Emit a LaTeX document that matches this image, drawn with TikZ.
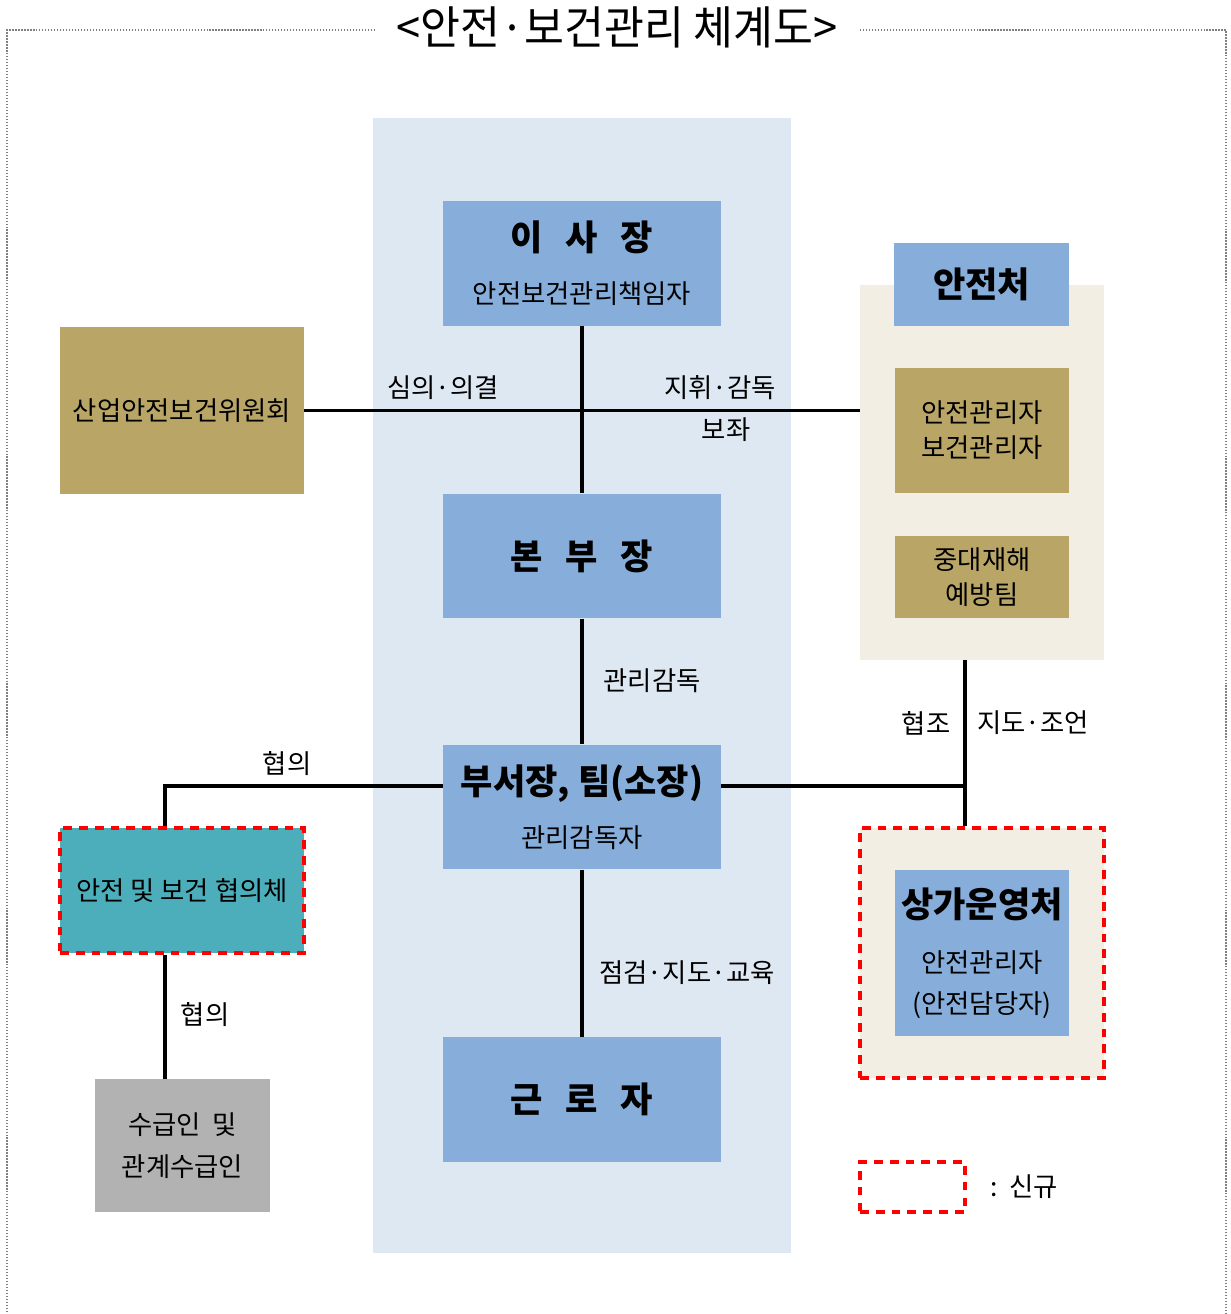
\documentclass[tikz,border=0pt]{standalone}
\usepackage{fontspec}
\setmainfont{Noto Sans CJK KR}
\usepackage{tikz}
\definecolor{ColBand}{RGB}{222,232,243}
\definecolor{ColBlue}{RGB}{135,174,218}
\definecolor{ColOlive}{RGB}{185,166,103}
\definecolor{ColBeige}{RGB}{242,238,228}
\definecolor{ColTeal}{RGB}{75,174,186}
\definecolor{ColGray}{RGB}{178,178,178}
\definecolor{ColNew}{RGB}{255,0,0}
\newcommand{\HeadFont}{\fontsize{20}{24}\selectfont\bfseries}
\newcommand{\BodyFont}{\fontsize{15}{20}\selectfont}
\tikzstyle{BoxBlue}=[fill=ColBlue,minimum width=5.56cm,minimum height=2.5cm,align=center,
inner sep=0pt,font=\BodyFont]
\tikzstyle{BoxOlive}=[fill=ColOlive,align=center,inner sep=0pt,font=\BodyFont]
\tikzstyle{Panel}=[fill=ColBeige,minimum width=4.88cm,inner sep=0pt]
\tikzstyle{NewMark}=[draw=ColNew,line width=2.6pt,dash pattern=on 5pt off 4pt]
\tikzstyle{EdgeLine}=[black,line width=2.2pt]
\tikzstyle{Label}=[font=\BodyFont,inner sep=0pt]
\begin{document}
\begin{tikzpicture}[x=0.02cm,y=-0.02cm]
        \useasboundingbox (0,0) rectangle (1230,1314);
        % frame and title
        \draw[gray,densely dotted,line width=0.7pt](375,30)--(7,30)--(7,1314);
        \draw[gray,densely dotted,line width=0.7pt](860,30)--(1226,30)--(1226,1314);
        \node[inner sep=0pt](title)at(617,27){\scalebox{.95}[1]{\fontsize{26}{30}\selectfont <안전·보건관리 체계도>}};
        \fill[ColBand](373,118)rectangle(791,1253);
        % main line
        \node[BoxBlue](chair)at(582,263.5){{\HeadFont 이\hspace{.65em}사\hspace{.65em}장}\\[3.5mm]안전보건관리책임자};
        \node[BoxBlue](hq)at(582,556){\HeadFont 본\hspace{.65em}부\hspace{.65em}장};
        \node[BoxBlue](dept)at(582,807){{\HeadFont 부서장,\ 팀(소장)}\\[3.5mm]관리감독자};
        \node[BoxBlue](worker)at(582,1099.5){\HeadFont 근\hspace{.65em}로\hspace{.65em}자};
        % left side
        \node[BoxOlive,minimum width=4.88cm,minimum height=3.34cm](committee)at(182,410.5){산업안전보건위원회};
        \node[BoxOlive,fill=ColTeal,NewMark,minimum width=4.88cm,minimum height=2.5cm](council)at(182,890.5){안전\ 및\ 보건\ 협의체};
        \node[BoxOlive,fill=ColGray,minimum width=3.5cm,minimum height=2.66cm](contractor)at(182.5,1145.5){수급인\ \ 및\\[4pt]관계수급인};
        % right side
        \node[Panel,minimum height=7.5cm](safety)at(982,472.5){};
        \node[BoxBlue,minimum width=3.5cm,minimum height=1.66cm](safetyhead)at(981.5,284.5){\HeadFont 안전처};
        \node[BoxOlive,minimum width=3.48cm,minimum height=2.5cm](manager)at(982,430.5){안전관리자\\보건관리자};
        \node[BoxOlive,minimum width=3.48cm,minimum height=1.64cm](team)at(982,577){중대재해\\예방팀};
        \node[Panel,NewMark,minimum height=5cm](mall)at(982,953){};
        \node[BoxBlue,minimum width=3.48cm,minimum height=3.32cm](mallhead)at(982,953){{\HeadFont 상가운영처}\\[4mm]안전관리자\\[3pt](안전담당자)};
        % legend
        \node[NewMark,minimum width=2.1cm,minimum height=1cm](legend)at(912.5,1187){};
        \node[Label,anchor=west](legendtext)at(990,1187){:\ \ 신규};
        % connectors
        \coordinate(joinR)at(965,786);
        \coordinate(joinL)at(165,786);
        \draw[EdgeLine](chair)--(hq);
        \draw[EdgeLine](hq)--(dept);
        \draw[EdgeLine](dept)--(worker);
        \draw[EdgeLine](committee.east)--(committee.east-|safety.west);
        \draw[EdgeLine](dept.east|-joinR)--(joinR);
        \draw[EdgeLine](safety.south-|joinR)--(mall.north-|joinR);
        \draw[EdgeLine](dept.west|-joinL)--(joinL)--(joinL|-council.north);
        \draw[EdgeLine](council.south-|joinL)--(contractor.north-|joinL);
        % labels
        \node[Label](deliberate)at(443,388){심의·의결};
        \node[Label](command)at(720,388){지휘·감독};
        \node[Label](assist)at(726,430){보좌};
        \node[Label](supervise)at(652,681){관리감독};
        \node[Label](inspect)at(687,973){점검·지도·교육};
        \node[Label](cooperate)at(926,723){협조};
        \node[Label](advise)at(1033,723){지도·조언};
        \node[Label](consultA)at(287,764){협의};
        \node[Label](consultB)at(205,1015){협의};
    \end{tikzpicture}
\end{document}
